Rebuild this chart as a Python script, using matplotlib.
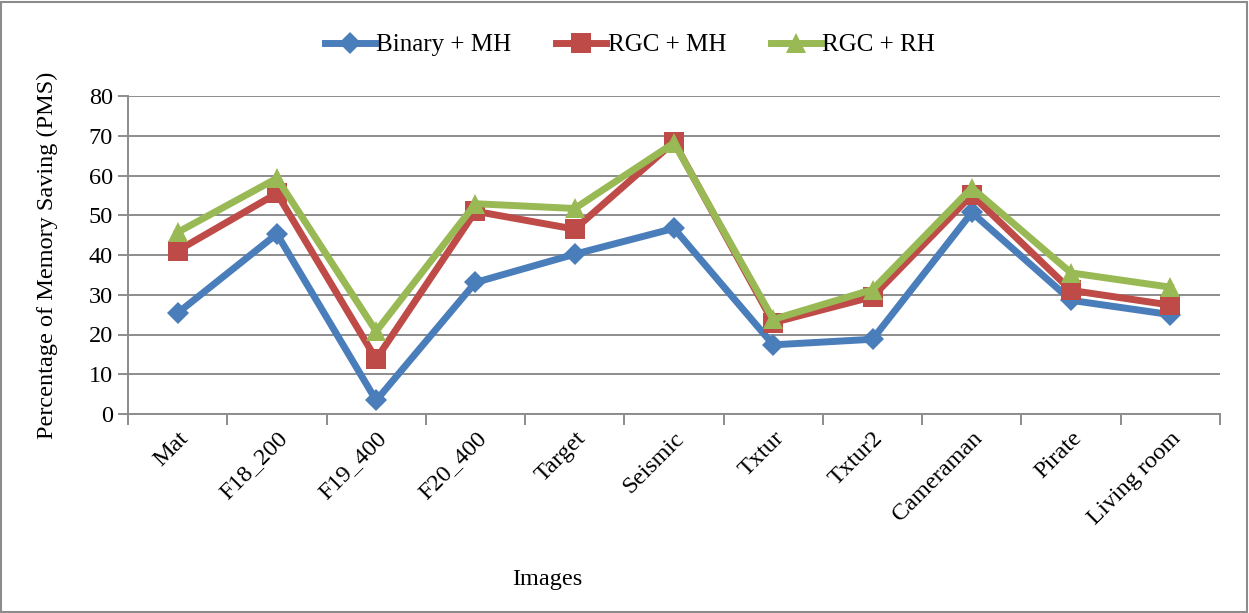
import numpy as np
import matplotlib
matplotlib.use("Agg")
import matplotlib.pyplot as plt
from matplotlib.patches import Rectangle

# PMS per test image for each method
images = ["Mat", "F18_200", "F19_400", "F20_400", "Target", "Seismic",
          "Txtur", "Txtur2", "Cameraman", "Pirate", "Living room"]
binary_mh = [25.4, 45.3, 3.4, 33.1, 40.2, 46.7, 17.4, 18.8, 50.7, 28.6, 25.0]
rgc_mh = [41.1, 55.5, 13.8, 51.0, 46.5, 68.4, 23.0, 29.5, 55.1, 31.1, 27.4]
rgc_rh = [45.7, 59.3, 20.8, 52.9, 51.7, 68.2, 23.8, 31.3, 56.9, 35.5, 31.9]

series = [
    ("Binary + MH", binary_mh, "#4A7EBB", "D", 11),
    ("RGC + MH", rgc_mh, "#BE4B48", "s", 14),
    ("RGC + RH", rgc_rh, "#98B954", "^", 15),
]

plt.rcParams["font.family"] = ["Liberation Serif", "DejaVu Serif"]

fig = plt.figure(figsize=(12.49, 6.13), dpi=100)
ax = fig.add_axes([128 / 1249, 1 - 414 / 613, (1220 - 128) / 1249, (414 - 96) / 613])

x = np.arange(len(images))
for name, vals, color, marker, ms in series:
    ax.plot(x, vals, color=color, lw=5, marker=marker, markersize=ms,
            markeredgewidth=0, label=name, solid_joinstyle="miter", zorder=3)

ax.set_xlim(-0.5, len(images) - 0.5)
ax.set_ylim(0, 80)
ax.set_yticks(np.arange(0, 81, 10))
ax.yaxis.grid(True, color="#8c8c8c", lw=1.4)
ax.set_axisbelow(True)

# category ticks sit between the labels
ax.set_xticks(x)
ax.set_xticklabels(images, rotation=45, ha="right", rotation_mode="anchor", fontsize=17.5)
ax.tick_params(axis="x", length=0, pad=10)
ax.set_xticks(np.arange(-0.5, len(images)), minor=True)
ax.tick_params(axis="x", which="minor", length=8, color="#8c8c8c", width=1.4)
ax.tick_params(axis="y", labelsize=17.5, length=7, color="#8c8c8c", width=1.4, pad=4)

for side in ["top", "right"]:
    ax.spines[side].set_visible(False)
for side in ["left", "bottom"]:
    ax.spines[side].set_color("#8c8c8c")
    ax.spines[side].set_linewidth(1.4)

ax.set_ylabel("Percentage of Memory Saving (PMS)", fontsize=17.5, labelpad=22)
fig.text(547 / 1249, 1 - 580 / 613, "Images", fontsize=17.5, ha="center", va="center")

fig.legend(loc="center", bbox_to_anchor=(630 / 1249, 1 - 45 / 613), ncol=3,
           frameon=False, fontsize=18, handlelength=2.0, handletextpad=0.05,
           columnspacing=1.8)

# outer chart border
fig.patches.append(Rectangle((0.001, 0.001), 0.997, 0.996, transform=fig.transFigure,
                             fill=False, edgecolor="#8c8c8c", lw=1.5))

fig.savefig("out.png", dpi=100)
